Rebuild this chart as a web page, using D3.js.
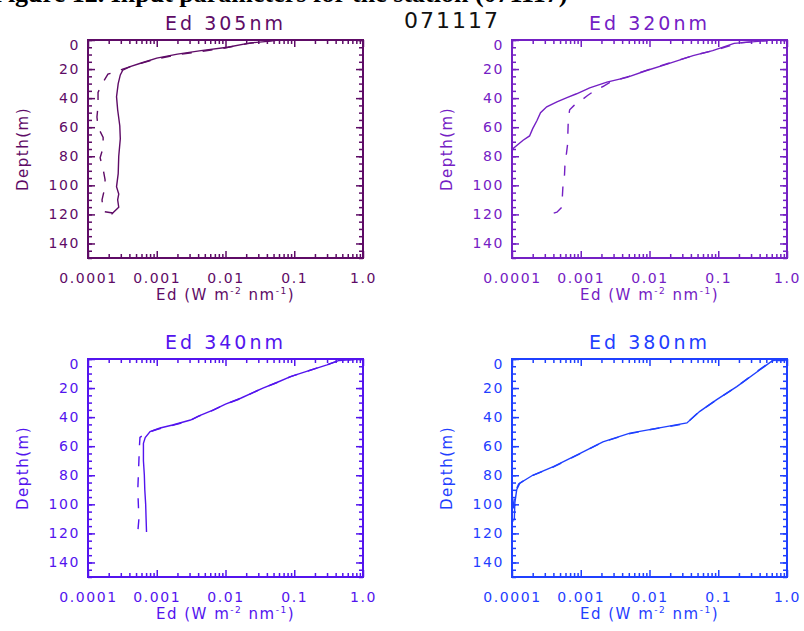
<!DOCTYPE html>
<html>
<head>
<meta charset="utf-8">
<script src="https://cdn.jsdelivr.net/npm/d3@7"></script>
<style>
  body { margin: 0; background: #fff; }
  svg { display: block; }
  text { font-family: "DejaVu Sans", sans-serif; }
</style>
</head>
<body>
<svg width="804" height="631"></svg>
<script>
// panel titles and colours
const titles = ["Ed 305nm", "Ed 320nm", "Ed 340nm", "Ed 380nm"];
const colors = ["#5e0b66", "#7420c4", "#5314ee", "#1f40ff"];
const depthTicks = [0, 20, 40, 60, 80, 100, 120, 140];
const edTicks = [0.0001, 0.001, 0.01, 0.1, 1.0];
const edTickLabels = ["0.0001", "0.001", "0.01", "0.1", "1.0"];

// profiles: [Ed, depth]
const ed305Solid = [[0.058,0],[0.045,0.8],[0.023,2],[0.0107,5],[0.0044,7.3],[0.002,9.7],[0.001,12.5],[0.00058,16],[0.00041,18.3],[0.00032,20.8],[0.000295,24],[0.000275,30],[0.00026,39],[0.00027,48],[0.00029,59],[0.000295,68],[0.00028,80],[0.000275,92],[0.00026,101],[0.00028,106],[0.00027,110],[0.00028,115],[0.000235,118.5],[0.00022,120]];
const ed305Dashed = [[0.052,0],[0.021,2.5],[0.0098,5.5],[0.0042,8],[0.0018,10.5],[0.0009,13.5],[0.0005,17],[0.00032,20],[0.00027,21.5],[0.000195,23.5],[0.000166,29],[0.00014,36],[0.00014,45],[0.000135,53],[0.00014,60],[0.000166,67],[0.000166,74],[0.00015,81],[0.000166,89],[0.000177,96],[0.000177,101],[0.00016,110],[0.000166,118],[0.00023,119]];
const ed320Solid = [[0.55,0],[0.5,0.5],[0.17,2.3],[0.083,7.3],[0.043,10.8],[0.018,16.6],[0.0091,21],[0.0047,25.7],[0.0024,29],[0.00135,33],[0.00087,37],[0.00063,39.6],[0.00045,42.6],[0.00032,46],[0.00026,50],[0.00023,55.6],[0.0002,61],[0.00018,66],[0.000145,69],[0.000102,75],[0.0000985,79],[0.00009,82]];
const ed320Dashed = [[0.6,0],[0.2,2],[0.09,7],[0.045,10.5],[0.019,16],[0.0095,20.5],[0.005,25],[0.0027,29],[0.0021,32],[0.0017,34],[0.00127,38],[0.00105,41],[0.0008,45],[0.00069,48],[0.00066,54],[0.00065,64],[0.00065,70],[0.00062,78],[0.00059,85],[0.00058,93],[0.00055,101],[0.00054,108],[0.00053,115],[0.00045,118.5],[0.00038,119.5]];
const ed340Solid = [[0.9,0],[0.45,1],[0.3,4],[0.14,9],[0.09,12],[0.057,16],[0.035,20],[0.0166,27],[0.01,31],[0.0067,35],[0.0042,39],[0.0031,42],[0.0017,45.4],[0.00112,47.5],[0.0008,50],[0.00068,54],[0.00064,58],[0.00064,70],[0.00066,80],[0.00067,90],[0.00069,100],[0.0007,110],[0.00071,119]];
const ed340Dashed = [[0.85,0],[0.42,1.5],[0.28,4.5],[0.13,9.5],[0.085,12.5],[0.054,16.5],[0.033,20.5],[0.016,27.5],[0.0095,31.5],[0.0064,35.5],[0.004,39.5],[0.003,42.5],[0.0016,46],[0.001,48.5],[0.0007,51],[0.00057,54],[0.00056,60],[0.00055,70],[0.00054,80],[0.00053,90],[0.00054,100],[0.00055,110],[0.00053,119]];
const ed380Solid = [[1.0,0.5],[0.7,0.5],[0.6,1.5],[0.4,7.6],[0.186,19],[0.095,28],[0.054,36],[0.035,44],[0.0127,47.7],[0.0052,51],[0.0021,57],[0.00098,65],[0.0004,74],[0.0002,80],[0.00013,85.5],[0.000117,90],[0.00011,99],[0.000108,111]];
const ed380Dashed = [[0.95,1],[0.65,1],[0.55,2.5],[0.38,8],[0.18,19.5],[0.092,28.5],[0.052,36.5],[0.034,44.5],[0.012,48],[0.005,51.5],[0.002,57.5],[0.00095,65.5],[0.00039,74.5],[0.00019,80.5],[0.000125,86],[0.000112,91],[0.000105,100],[0.000103,112]];

const solids = [ed305Solid, ed320Solid, ed340Solid, ed380Solid];
const dashes = [ed305Dashed, ed320Dashed, ed340Dashed, ed380Dashed];

const svg = d3.select("svg");

// caption cut off at the top edge, and the station date
svg.append("text")
  .attr("x", -8).attr("y", 2)
  .style("font-family", "'Liberation Serif', serif")
  .style("font-weight", "bold")
  .style("font-size", "26px")
  .text("Figure 12. Input parameters for the station (071117)");
svg.append("text")
  .attr("x", 452).attr("y", 28)
  .attr("text-anchor", "middle")
  .style("font-size", "22px")
  .style("letter-spacing", "2px")
  .attr("fill", "#111")
  .text("071117");

const boxes = [
  {x: 88, y: 40}, {x: 512, y: 40},
  {x: 88, y: 359}, {x: 512, y: 359}
];
const boxW = 275, boxH = 218;

// minor ticks on the log axis
let edMinor = [];
[0.0001, 0.001, 0.01, 0.1].forEach(dec => {
  for (let k = 2; k <= 9; k++) edMinor.push(dec * k);
});

boxes.forEach((b, i) => {
  const col = colors[i];
  const g = svg.append("g").attr("transform", `translate(${b.x},${b.y})`);
  const x = d3.scaleLog().domain([0.0001, 1]).range([0, boxW]);
  const y = d3.scaleLinear().domain([0, 150]).range([0, boxH]);

  g.append("clipPath").attr("id", "clip" + i)
    .append("rect").attr("width", boxW).attr("height", boxH);

  // left axis with labels
  const left = g.append("g").call(
    d3.axisLeft(y).tickValues(depthTicks).tickSize(-7).tickSizeOuter(0).tickPadding(8)
  );
  left.selectAll("text").filter(d => d == 0).attr("dy", "0.7em");
  g.append("g").call(d3.axisLeft(y).tickValues(d3.range(0, 151, 5)).tickSize(-4).tickFormat(""));
  // right mirrored axis
  g.append("g").attr("transform", `translate(${boxW},0)`)
    .call(d3.axisRight(y).tickValues(depthTicks).tickSize(-7).tickFormat(""));
  g.append("g").attr("transform", `translate(${boxW},0)`)
    .call(d3.axisRight(y).tickValues(d3.range(0, 151, 5)).tickSize(-4).tickFormat(""));

  // bottom axis with labels
  g.append("g").attr("transform", `translate(0,${boxH})`)
    .call(d3.axisBottom(x).tickValues(edTicks).tickSize(-7).tickSizeOuter(0).tickPadding(15)
      .tickFormat((d, j) => edTickLabels[j]));
  g.append("g").attr("transform", `translate(0,${boxH})`)
    .call(d3.axisBottom(x).tickValues(edMinor).tickSize(-4).tickFormat(""));
  // top mirrored axis
  g.append("g").call(d3.axisTop(x).tickValues(edTicks).tickSize(-7).tickFormat(""));
  g.append("g").call(d3.axisTop(x).tickValues(edMinor).tickSize(-4).tickFormat(""));

  g.selectAll(".domain").remove();
  g.selectAll(".tick line").attr("stroke", col).attr("stroke-width", 1.5);
  g.selectAll(".tick text")
    .attr("fill", col)
    .style("font-size", "14px")
    .style("font-family", "'DejaVu Sans', sans-serif")
    .style("letter-spacing", "1.6px");

  g.append("rect")
    .attr("width", boxW).attr("height", boxH)
    .attr("fill", "none").attr("stroke", col).attr("stroke-width", 2);

  const line = d3.line().x(d => x(d[0])).y(d => y(d[1]));
  const lines = g.append("g").attr("clip-path", `url(#clip${i})`);
  lines.append("path").datum(solids[i])
    .attr("d", line).attr("fill", "none")
    .attr("stroke", col).attr("stroke-width", 1.4);
  lines.append("path").datum(dashes[i])
    .attr("d", line).attr("fill", "none")
    .attr("stroke", col).attr("stroke-width", 1.4)
    .attr("stroke-dasharray", "10,11");

  // titles and axis labels
  g.append("text")
    .attr("x", boxW / 2).attr("y", -10)
    .attr("text-anchor", "middle")
    .attr("fill", col)
    .style("font-size", "19px")
    .style("letter-spacing", "3px")
    .text(titles[i]);

  g.append("text")
    .attr("transform", `translate(-60,${boxH / 2}) rotate(-90)`)
    .attr("text-anchor", "middle")
    .attr("fill", col)
    .style("font-size", "15px")
    .style("letter-spacing", "1.5px")
    .text("Depth(m)");

  const xl = g.append("text")
    .attr("x", boxW / 2).attr("y", boxH + 42)
    .attr("text-anchor", "middle")
    .attr("fill", col)
    .style("font-size", "15px")
    .style("letter-spacing", "1.5px");
  xl.append("tspan").text("Ed (W m");
  xl.append("tspan").attr("dy", -6).style("font-size", "9px").text("-2");
  xl.append("tspan").attr("dy", 6).text(" nm");
  xl.append("tspan").attr("dy", -6).style("font-size", "9px").text("-1");
  xl.append("tspan").attr("dy", 6).text(")");
});
</script>
</body>
</html>
